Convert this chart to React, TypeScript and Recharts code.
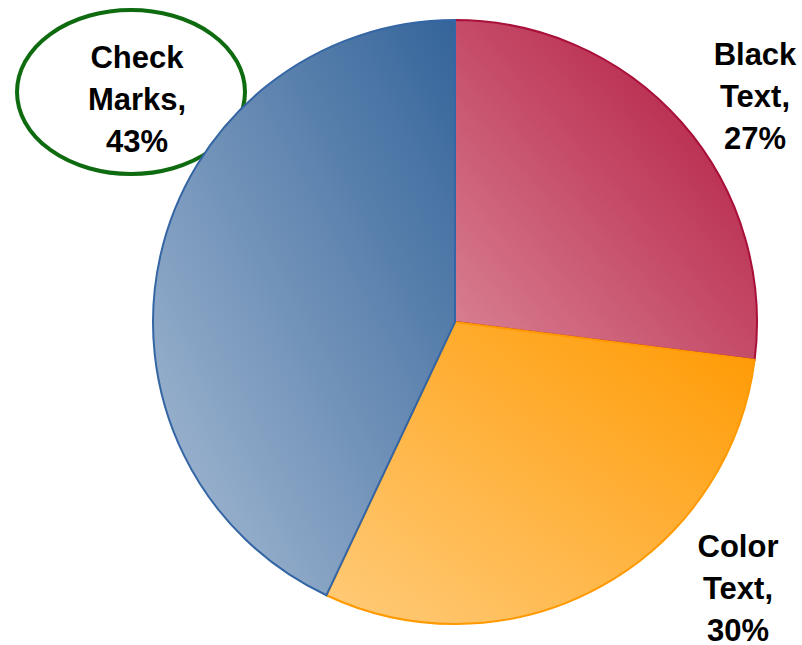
import { Pie, PieChart, Cell } from "recharts";

// Slice data, clockwise from 12 o'clock
const CATEGORIES = ["Black Text", "Color Text", "Check Marks"];
const SHARES = [27, 30, 43];

// Gradient colours per slice: [dark (top-right), light (bottom-left), outline]
const COLORS = [
  ["#b0143c", "#da8395", "#a8103a"],
  ["#ff9900", "#ffcb7a", "#ff9900"],
  ["#34649a", "#a9bdd5", "#3465a4"],
];

// Label anchor (centre x, first baseline y) for each slice
const LABEL_POS = [
  [755, 65],
  [738, 557],
  [137, 68],
];

const data = CATEGORIES.map((name, i) => ({ name, value: SHARES[i] }));

function renderLabel(props: any) {
  const { index } = props;
  const [x, y] = LABEL_POS[index];
  const words = CATEGORIES[index].split(" ");
  const lines = [...words.map((w, i) => (i === words.length - 1 ? w + "," : w)), `${SHARES[index]}%`];
  return (
    <text
      key={`lbl-${index}`}
      x={x}
      y={y}
      textAnchor="middle"
      fontFamily="'Liberation Sans', Arial, sans-serif"
      fontWeight="bold"
      fontSize={31}
      fill="#000"
    >
      {lines.map((l, i) => (
        <tspan key={i} x={x} y={y + i * 42}>
          {l}
        </tspan>
      ))}
    </text>
  );
}

export default function App() {
  return (
    <div style={{ position: "absolute", left: 0, top: 0, width: 802, height: 645, background: "#fff" }}>
      <PieChart width={802} height={645} margin={{ top: 0, right: 0, bottom: 0, left: 0 }}>
        <defs>
          {COLORS.map((c, i) => (
            <linearGradient key={i} id={`slice-${i}`} x1="1" y1="0" x2="0" y2="1">
              <stop offset="0%" stopColor={c[0]} />
              <stop offset="100%" stopColor={c[1]} />
            </linearGradient>
          ))}
        </defs>
        <Pie
          data={data}
          dataKey="value"
          nameKey="name"
          cx={455}
          cy={322}
          outerRadius={302}
          startAngle={90}
          endAngle={-270}
          label={renderLabel}
          labelLine={false}
          isAnimationActive={false}
        >
          {data.map((_, i) => (
            <Cell key={i} fill={`url(#slice-${i})`} stroke={COLORS[i][2]} strokeWidth={2} />
          ))}
        </Pie>
        <ellipse cx={131} cy={92} rx={114} ry={82} fill="none" stroke="#0f6b0f" strokeWidth={4} />
      </PieChart>
    </div>
  );
}
